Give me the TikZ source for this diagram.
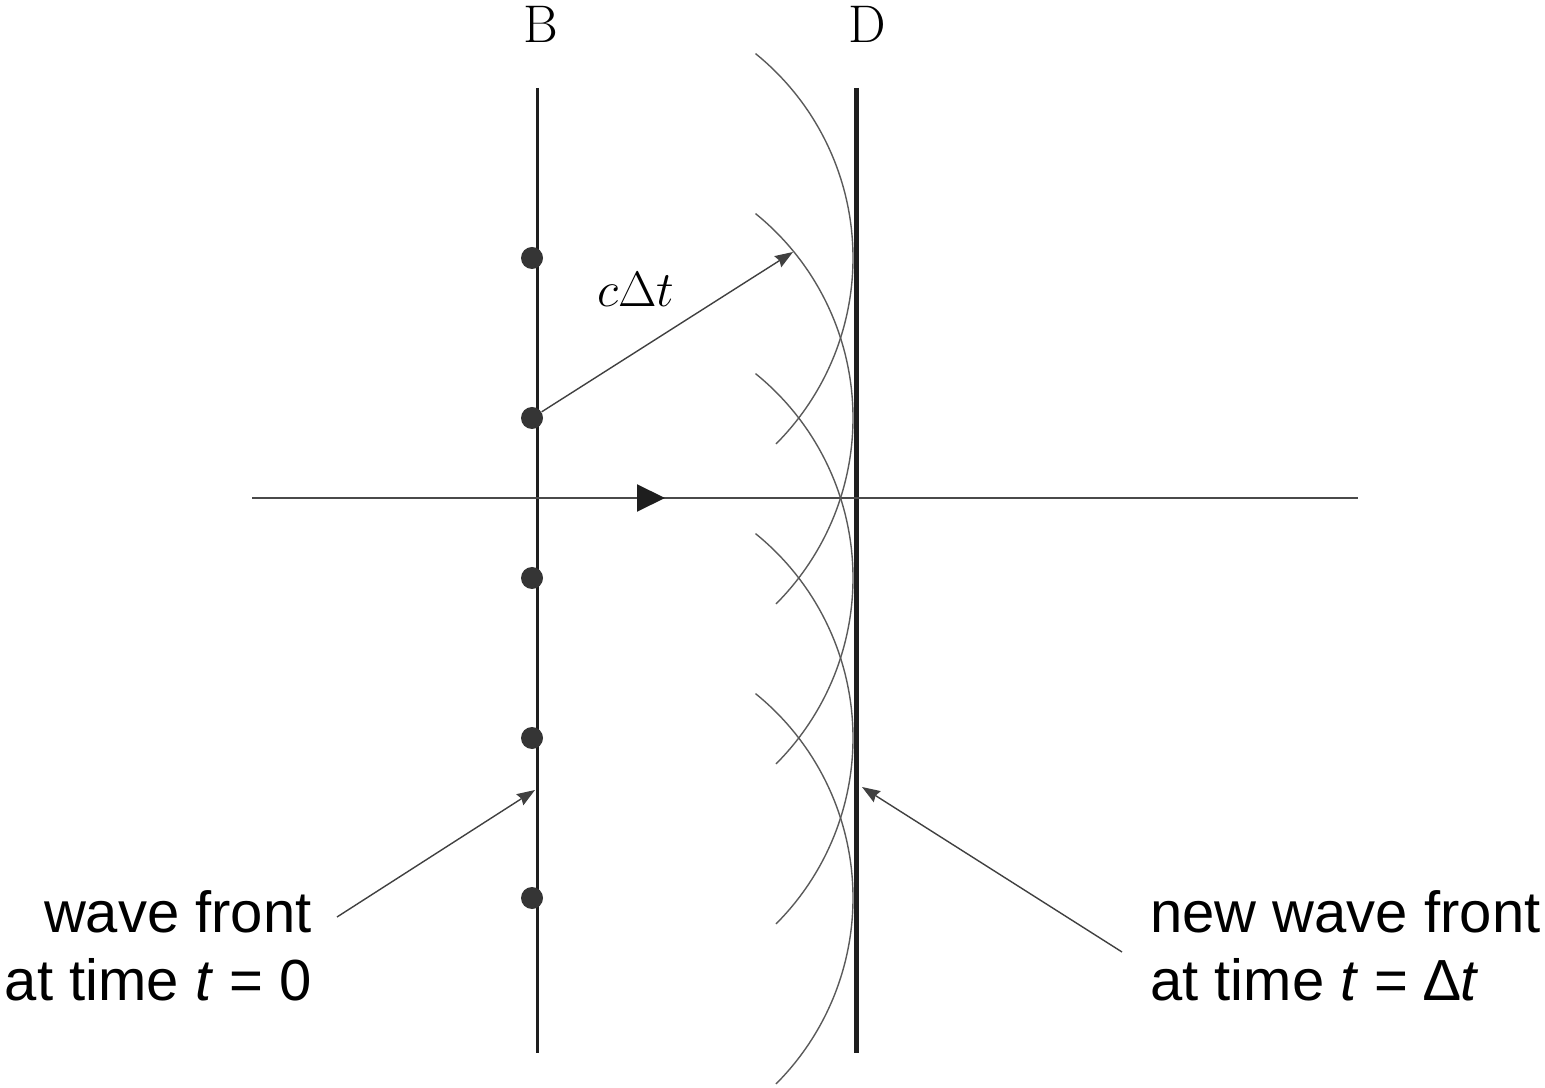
\documentclass[tikz,border=0pt]{standalone}
\usepackage{fontspec}
\newfontfamily\labelfont{Liberation Sans}
\usetikzlibrary{arrows.meta}
\definecolor{frontcol}{HTML}{1e1e1e}
\definecolor{waveletcol}{HTML}{5a5a5a}
\definecolor{axiscol}{HTML}{4a4a4a}
\tikzset{
    front/.style={
        draw=frontcol, line width=#1, line cap=butt,
    },
    dot/.style={
        circle, fill=frontcol!90, inner sep=0pt, minimum size=11pt,
    },
    wavelet/.style={
        draw=waveletcol, line width=0.7pt,
    },
    axis/.style={
        draw=axiscol, line width=1pt,
    },
    pointer/.style={
        -{Stealth[length=9pt, width=6.5pt, inset=1pt]}, draw=frontcol!85, line width=0.7pt,
    },
    caption/.style={
        font=\labelfont\fontsize{29}{34}\selectfont, inner sep=0pt, align=#1,
    },
    letter/.style={
        font=\fontsize{26.5}{30}\selectfont, inner sep=0pt,
    },
}

\begin{document}
\begin{tikzpicture}[x=0.5pt, y=0.5pt]
\useasboundingbox (0,0) rectangle (1545,1087);

% ── Wave fronts B and D ──────────────────────────────────────
\coordinate (topB) at (537,999);
\coordinate (botB) at (537,34);
\coordinate (topD) at (856,999);
\coordinate (botD) at (856,34);
\draw[front=1.5pt] (topB) -- (botB);
\draw[front=2.5pt] (topD) -- (botD);
\node[letter, anchor=base] (lblB) at (541,1044) {B};
\node[letter, anchor=base] (lblD) at (867,1044) {D};

% ── Propagation axis ─────────────────────────────────────────
\coordinate (axL) at (252,589);
\coordinate (axR) at (1358,589);
\coordinate (axTip) at (665,589);
\draw[axis] (axL) -- (axR);
\draw[axis, -{Triangle[length=14pt, width=13.5pt, color=frontcol, fill=frontcol]}] (axL) -- (axTip);

% ── Secondary wavelets (centres on B) ────────────────────────
\foreach \y in {829,669,509,349,189}
    \draw[wavelet] (590,\y) ++(51:263) arc[start angle=51, end angle=-45, radius=263];

\foreach \i/\y in {1/829, 2/669, 3/509, 4/349, 5/189}
    \node[dot] (dot\i) at (532,\y) {};

% radius of one wavelet
\coordinate (tipC) at (793,835);
\draw[pointer] (dot2) -- (tipC);
\node[font=\fontsize{27}{30}\selectfont, anchor=base] (lblC) at (636,780) {$c\Delta t$};

% ── Captions ─────────────────────────────────────────────────
\node[caption=right, anchor=base east] (capOld) at (312,87) {wave front\\at time \textit{t} = 0};
\node[caption=left, anchor=base west] (capNew) at (1150,87) {new wave front\\at time \textit{t} = ∆\textit{t}};

\coordinate (fromOld) at (337,170);
\coordinate (tipOld) at (535,297);
\coordinate (fromNew) at (1122,135);
\coordinate (tipNew) at (862,300);
\draw[pointer] (fromOld) -- (tipOld);
\draw[pointer] (fromNew) -- (tipNew);

\end{tikzpicture}
\end{document}
